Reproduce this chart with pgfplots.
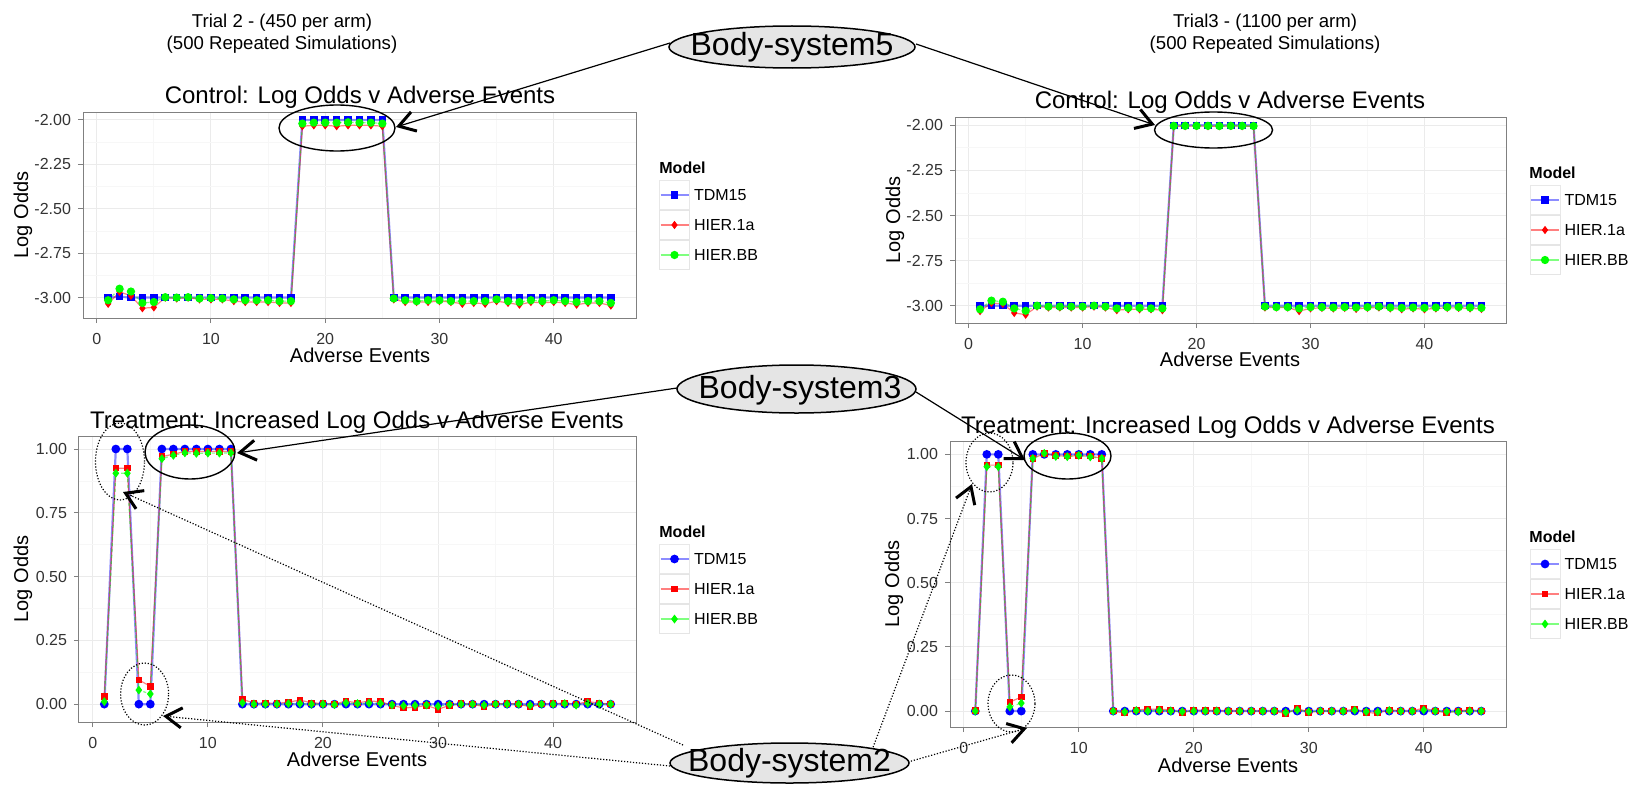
\documentclass[border=0pt]{standalone}
\usepackage{fontspec}
\setmainfont{Liberation Sans}
\usepackage{pgfplots}
\pgfplotsset{compat=1.18}
\usepackage{pgfplotstable}
\usetikzlibrary{arrows.meta}

\pgfplotstableread{
x a b c
1 -3.00 -3.035 -3.015
2 -2.995 -2.968 -2.950
3 -3.00 -2.990 -2.966
4 -3.00 -3.060 -3.030
5 -3.00 -3.055 -3.025
6 -3.00 -3.000 -2.998
7 -3.00 -3.005 -3.000
8 -3.00 -3.000 -2.998
9 -3.00 -3.010 -3.005
10 -3.00 -3.010 -3.003
11 -3.00 -3.010 -3.005
12 -3.00 -3.020 -3.010
13 -3.00 -3.025 -3.015
14 -3.00 -3.025 -3.015
15 -3.00 -3.025 -3.015
16 -3.00 -3.030 -3.020
17 -3.00 -3.030 -3.020
18 -2.00 -2.035 -2.020
19 -2.00 -2.030 -2.015
20 -2.00 -2.030 -2.015
21 -2.00 -2.035 -2.015
22 -2.00 -2.030 -2.013
23 -2.00 -2.030 -2.015
24 -2.00 -2.030 -2.015
25 -2.00 -2.035 -2.020
26 -3.00 -3.010 -3.005
27 -3.00 -3.025 -3.015
28 -3.00 -3.025 -3.020
29 -3.00 -3.025 -3.015
30 -3.00 -3.020 -3.015
31 -3.00 -3.025 -3.020
32 -3.00 -3.035 -3.020
33 -3.00 -3.030 -3.020
34 -3.00 -3.035 -3.020
35 -3.00 -3.020 -3.010
36 -3.00 -3.030 -3.020
37 -3.00 -3.040 -3.025
38 -3.00 -3.025 -3.015
39 -3.00 -3.030 -3.020
40 -3.00 -3.025 -3.015
41 -3.00 -3.030 -3.020
42 -3.00 -3.040 -3.025
43 -3.00 -3.030 -3.020
44 -3.00 -3.030 -3.020
45 -3.00 -3.045 -3.030
}\TL

\pgfplotstableread{
x a b c
1 -3.00 -3.030 -3.020
2 -3.00 -2.985 -2.972
3 -3.00 -2.990 -2.978
4 -3.00 -3.040 -3.015
5 -3.00 -3.050 -3.028
6 -3.00 -3.005 -3.000
7 -3.00 -3.010 -3.005
8 -3.00 -3.010 -3.005
9 -3.00 -3.010 -3.005
10 -3.00 -3.010 -3.005
11 -3.00 -3.005 -3.000
12 -3.00 -3.010 -3.005
13 -3.00 -3.025 -3.015
14 -3.00 -3.020 -3.012
15 -3.00 -3.020 -3.012
16 -3.00 -3.020 -3.015
17 -3.00 -3.025 -3.015
18 -2.00 -2.005 -2.003
19 -2.00 -2.005 -2.003
20 -2.00 -2.004 -2.003
21 -2.00 -2.005 -2.003
22 -2.00 -2.005 -2.004
23 -2.00 -2.004 -2.003
24 -2.00 -2.005 -2.003
25 -2.00 -2.005 -2.004
26 -3.00 -3.010 -3.005
27 -3.00 -3.010 -3.008
28 -3.00 -3.010 -3.008
29 -3.00 -3.030 -3.015
30 -3.00 -3.015 -3.008
31 -3.00 -3.012 -3.008
32 -3.00 -3.015 -3.010
33 -3.00 -3.012 -3.008
34 -3.00 -3.018 -3.010
35 -3.00 -3.012 -3.008
36 -3.00 -3.010 -3.005
37 -3.00 -3.015 -3.010
38 -3.00 -3.020 -3.012
39 -3.00 -3.015 -3.010
40 -3.00 -3.020 -3.012
41 -3.00 -3.015 -3.010
42 -3.00 -3.012 -3.008
43 -3.00 -3.012 -3.008
44 -3.00 -3.015 -3.010
45 -3.00 -3.018 -3.012
}\TR

\pgfplotstableread{
x a b c
1 0 0.030 0.010
2 1 0.925 0.905
3 1 0.925 0.905
4 0 0.095 0.055
5 0 0.070 0.040
6 1 0.970 0.962
7 1 0.980 0.975
8 1 0.990 0.985
9 1 0.990 0.983
10 1 0.990 0.984
11 1 0.990 0.984
12 1 0.990 0.985
13 0 0.020 0.005
14 0 0.003 0.000
15 0 0.005 0.000
16 0 0.003 0.000
17 0 0.008 0.002
18 0 0.016 0.002
19 0 0.005 0.000
20 0 0.003 0.000
21 0 0.000 -0.002
22 0 0.012 0.005
23 0 0.005 0.002
24 0 0.012 0.004
25 0 0.010 0.003
26 0 -0.005 -0.003
27 0 -0.015 -0.006
28 0 -0.012 -0.005
29 0 -0.005 -0.003
30 0 -0.020 -0.008
31 0 -0.005 -0.002
32 0 0.002 0.000
33 0 0.000 0.000
34 0 -0.010 -0.004
35 0 0.000 0.000
36 0 0.003 0.000
37 0 0.000 0.000
38 0 -0.010 -0.004
39 0 0.000 0.000
40 0 0.002 0.000
41 0 0.004 0.002
42 0 0.000 -0.004
43 0 0.010 0.003
44 0 0.004 0.000
45 0 0.000 0.000
}\BL

\pgfplotstableread{
x a b c
1 0 0.003 0.000
2 1 0.958 0.952
3 1 0.958 0.952
4 0 0.035 0.016
5 0 0.055 0.031
6 1 0.984 0.984
7 1 1.003 1.004
8 1 0.995 0.992
9 1 0.993 0.991
10 1 0.995 0.996
11 1 0.993 0.990
12 1 0.985 0.984
13 0 0.000 0.000
14 0 -0.008 -0.003
15 0 0.004 0.002
16 0 0.008 0.000
17 0 0.007 0.003
18 0 0.005 0.000
19 0 -0.006 -0.002
20 0 0.004 0.000
21 0 0.003 0.000
22 0 0.002 0.000
23 0 0.000 0.000
24 0 0.000 0.000
25 0 0.000 0.000
26 0 0.000 0.000
27 0 0.000 0.000
28 0 -0.010 -0.005
29 0 0.010 0.004
30 0 -0.005 -0.002
31 0 0.000 0.000
32 0 0.000 0.000
33 0 0.000 0.000
34 0 0.008 0.003
35 0 -0.006 -0.002
36 0 -0.008 -0.003
37 0 0.005 0.002
38 0 0.000 0.000
39 0 0.000 0.000
40 0 0.012 0.004
41 0 0.000 0.000
42 0 -0.006 -0.002
43 0 0.000 -0.003
44 0 0.004 0.000
45 0 0.000 0.000
}\BR

\definecolor{gblue}{RGB}{0,0,255}
\definecolor{gred}{RGB}{255,0,0}
\definecolor{ggreen}{RGB}{0,255,0}

\pgfplotsset{
  ggpanel/.style={
    scale only axis, xmin=-1.2, xmax=47.2,
    xtick={0,10,20,30,40},
    minor x tick num=1, minor y tick num=1,
    grid=both,
    major grid style={draw=black!8, line width=0.5pt},
    minor grid style={draw=black!3, line width=0.4pt},
    axis line style={draw=black!50, line width=0.5pt},
    tick align=outside, major tick length=2.5pt, minor tick length=0pt,
    tick style={draw=black!50, line width=0.5pt},
    xtick pos=left, ytick pos=left,
    ticklabel style={font=\fontsize{8}{9}\selectfont, text=black!80},
    xticklabel style={yshift=-1.5pt},
    /pgf/number format/assume math mode=true,
    yticklabel style={/pgf/number format/.cd, fixed, fixed zerofill, precision=2},
    legend cell align=left,
    legend style={draw=none, fill=none, inner sep=0pt, outer sep=0pt,
      at={(1,0.5)}, anchor=west, xshift=11.5pt, yshift=-5pt,
      nodes={inner sep=0pt, text depth=0pt, font=\fontsize{8}{9}\selectfont},
      row sep=0pt, column sep=2pt},
    legend image code/.code={
      \draw[black!20, line width=0.5pt, fill=white, solid] (0pt,-7.25pt) rectangle (15pt,7.25pt);
      \draw[mark repeat=2, mark phase=2, ##1, solid] plot coordinates {(0.5pt,0pt) (7.5pt,0pt) (14.5pt,0pt)};
    },
  },
  sb/.style={color=gblue, line width=1.1pt, draw opacity=0.45, mark options={solid, draw opacity=1, fill opacity=1}},
  sr/.style={color=gred, line width=0.6pt, draw opacity=0.5, mark size=1.6pt, mark options={solid, draw opacity=1, fill opacity=1}},
  sg/.style={color=ggreen, line width=0.6pt, draw opacity=0.5, dash pattern=on 1.5pt off 1.5pt, mark size=1.75pt, mark options={solid, draw opacity=1, fill opacity=1}},
}

\tikzset{
  chev/.style={-{Straight Barb[length=8pt,width=10pt,line width=1.5pt]}},
  dotl/.style={line width=0.6pt, dash pattern=on 0.6pt off 0.9pt},
}

\begin{document}
\begin{tikzpicture}
\useasboundingbox (0,0) rectangle (818.5pt,392pt);

% Top-left
\begin{axis}[ggpanel, at={(41.5pt,233pt)}, anchor=south west,
  width=276.5pt, height=103pt, ymin=-3.115, ymax=-1.955,
  ytick={-3,-2.75,-2.5,-2.25,-2}]
\addplot[sb, mark=square*, mark size=1.35pt] table[x=x,y=a]{\TL};
\addplot[sr, mark=diamond*] table[x=x,y=b]{\TL};
\addplot[sg, mark=*] table[x=x,y=c]{\TL};
\legend{TDM15,HIER.1a,HIER.BB}
\end{axis}

% Top-right
\begin{axis}[ggpanel, at={(477.5pt,230.5pt)}, anchor=south west,
  width=275.75pt, height=103pt, ymin=-3.096, ymax=-1.954,
  ytick={-3,-2.75,-2.5,-2.25,-2}]
\addplot[sb, mark=square*, mark size=1.35pt] table[x=x,y=a]{\TR};
\addplot[sr, mark=diamond*] table[x=x,y=b]{\TR};
\addplot[sg, mark=*] table[x=x,y=c]{\TR};
\legend{TDM15,HIER.1a,HIER.BB}
\end{axis}

% Bottom-left
\begin{axis}[ggpanel, at={(39.5pt,31pt)}, anchor=south west,
  width=278.5pt, height=143pt, ymin=-0.07, ymax=1.051,
  ytick={0,0.25,0.5,0.75,1}]
\addplot[sb, mark=*, mark size=1.6pt] table[x=x,y=a]{\BL};
\addplot[sr, mark=square*, mark size=1.35pt] table[x=x,y=b]{\BL};
\addplot[sg, mark=diamond*] table[x=x,y=c]{\BL};
\legend{TDM15,HIER.1a,HIER.BB}
\end{axis}

% Bottom-right
\begin{axis}[ggpanel, at={(475pt,28.5pt)}, anchor=south west,
  width=278.25pt, height=143pt, ymin=-0.062, ymax=1.052,
  ytick={0,0.25,0.5,0.75,1}]
\addplot[sb, mark=*, mark size=1.6pt] table[x=x,y=a]{\BR};
\addplot[sr, mark=square*, mark size=1.35pt] table[x=x,y=b]{\BR};
\addplot[sg, mark=diamond*] table[x=x,y=c]{\BR};
\legend{TDM15,HIER.1a,HIER.BB}
\end{axis}

\begin{scope}[shift={(0pt,392pt)}, x=0.5pt, y=-0.5pt]
% main titles
\node[font=\fontsize{9.3}{11}\selectfont, align=center] at (282,34) {Trial 2 - (450 per arm)\\(500 Repeated Simulations)};
\node[font=\fontsize{9.3}{11}\selectfont, align=center] at (1265,34) {Trial3 - (1100 per arm)\\(500 Repeated Simulations)};
% panel titles
\node[font=\fontsize{12}{14}\selectfont] at (360,97) {Control: Log Odds v Adverse Events};
\node[font=\fontsize{12}{14}\selectfont] at (1230,102) {Control: Log Odds v Adverse Events};
\node[font=\fontsize{12}{14}\selectfont] at (357,422) {Treatment: Increased Log Odds v Adverse Events};
\node[font=\fontsize{12}{14}\selectfont] at (1228,427) {Treatment: Increased Log Odds v Adverse Events};
% axis labels
\node[font=\fontsize{10}{12}\selectfont] at (360,355) {Adverse Events};
\node[font=\fontsize{10}{12}\selectfont] at (1230,359) {Adverse Events};
\node[font=\fontsize{10}{12}\selectfont] at (357,759) {Adverse Events};
\node[font=\fontsize{10}{12}\selectfont] at (1228,765) {Adverse Events};
\node[font=\fontsize{10}{12}\selectfont, rotate=90] at (23,215) {Log Odds};
\node[font=\fontsize{10}{12}\selectfont, rotate=90] at (895,220) {Log Odds};
\node[font=\fontsize{10}{12}\selectfont, rotate=90] at (23,579) {Log Odds};
\node[font=\fontsize{10}{12}\selectfont, rotate=90] at (894,584) {Log Odds};
% legend titles
\node[font=\fontsize{8}{9}\selectfont\bfseries, anchor=west, inner sep=0pt] at (659,168) {Model};
\node[font=\fontsize{8}{9}\selectfont\bfseries, anchor=west, inner sep=0pt] at (1529,173) {Model};
\node[font=\fontsize{8}{9}\selectfont\bfseries, anchor=west, inner sep=0pt] at (659,532) {Model};
\node[font=\fontsize{8}{9}\selectfont\bfseries, anchor=west, inner sep=0pt] at (1529,537) {Model};

% solid ellipses around Body-system 5 and 3
\draw[line width=0.7pt] (337,128) ellipse [x radius=29pt, y radius=11.5pt];
\draw[line width=0.7pt] (1213.5,130) ellipse [x radius=29.5pt, y radius=9pt];
\draw[line width=0.7pt] (190,452) ellipse [x radius=22.5pt, y radius=13.5pt];
\draw[line width=0.7pt] (1067.5,456) ellipse [x radius=21.75pt, y radius=11.5pt];
% dotted ellipses around Body-system 2
\draw[dotl] (120,461.5) ellipse [x radius=12.25pt, y radius=19.25pt];
\draw[dotl] (144.6,694) ellipse [x radius=12pt, y radius=15.5pt];
\draw[dotl] (989.5,462.5) ellipse [x radius=11.75pt, y radius=14.75pt];
\draw[dotl] (1011.5,703.5) ellipse [x radius=11.75pt, y radius=14.25pt];

% connectors
\draw[line width=0.6pt, chev] (670,43) -- (396,127);
\draw[line width=0.6pt, chev] (916,44) -- (1155,125);
\draw[line width=0.6pt, chev] (677,388) -- (237,453);
\draw[line width=0.6pt, chev] (916,392) -- (1025,460);
\draw[dotl, chev] (683,745) -- (123,492);
\draw[dotl, chev] (670,766) -- (163,716);
\draw[dotl, chev] (872,750) -- (972,484);
\draw[dotl, chev] (908,762) -- (1027,728);

% Body-system labels
\filldraw[line width=0.75pt, fill=black!10, draw=black] (792,47) ellipse [x radius=61.5pt, y radius=10.5pt];
\node[font=\fontsize{16}{18}\selectfont] at (792,47) {Body-system5};
\filldraw[line width=0.75pt, fill=black!10, draw=black] (796.5,389) ellipse [x radius=59.75pt, y radius=12pt];
\node[font=\fontsize{16}{18}\selectfont] at (800,390) {Body-system3};
\filldraw[line width=0.75pt, fill=black!10, draw=black] (789.5,763) ellipse [x radius=59.75pt, y radius=10pt];
\node[font=\fontsize{16}{18}\selectfont] at (789.5,763) {Body-system2};
\end{scope}
\end{tikzpicture}
\end{document}
